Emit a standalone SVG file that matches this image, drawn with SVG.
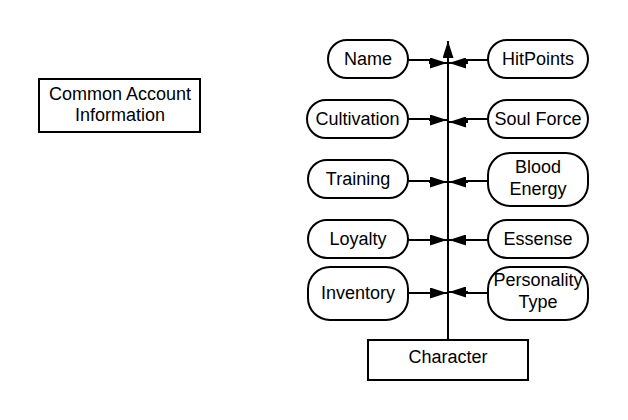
<svg xmlns="http://www.w3.org/2000/svg" width="628" height="420" viewBox="0 0 628 420">
<style>
.n{fill:#fff;stroke:#000;stroke-width:2}
.t{font-family:"Liberation Sans",Arial,sans-serif;font-size:18px;fill:#000;text-anchor:middle}
.c{fill:none;stroke:#000;stroke-width:2}
</style>
<defs>
<marker id="a" viewBox="0 0 17 11" refX="17" refY="5.5" markerWidth="17" markerHeight="11" markerUnits="userSpaceOnUse" orient="auto">
<path d="M0,0L17,5.5L0,11z" fill="#000"/>
</marker>
</defs>
<rect width="628" height="420" fill="#fff"/>
<g id="connectors">
<path class="c" d="M448,340V41" marker-end="url(#a)"/>
<path class="c" d="M408,60H430V63H447" marker-end="url(#a)"/>
<path class="c" d="M488,60H467V63H449" marker-end="url(#a)"/>
<path class="c" d="M408,119H430V120H447" marker-end="url(#a)"/>
<path class="c" d="M488,119H467V122H449" marker-end="url(#a)"/>
<path class="c" d="M408,181H430V182H447" marker-end="url(#a)"/>
<path class="c" d="M488,181H467V182H449" marker-end="url(#a)"/>
<path class="c" d="M408,240H447" marker-end="url(#a)"/>
<path class="c" d="M488,240H449" marker-end="url(#a)"/>
<path class="c" d="M408,293H447" marker-end="url(#a)"/>
<path class="c" d="M488,293H467V292H449" marker-end="url(#a)"/>
</g>
<g id="common"><rect class="n" x="39" y="79" width="161" height="53"/><text class="t" x="120" y="100">Common Account</text><text class="t" x="120" y="121">Information</text></g>
<g id="character"><rect class="n" x="368" y="340" width="160" height="40"/><text class="t" x="448" y="363">Character</text></g>
<g id="name"><rect class="n" x="328" y="40" width="80" height="38" rx="19"/><text class="t" x="368" y="65">Name</text></g>
<g id="cultivation"><rect class="n" x="307" y="100" width="101" height="38" rx="19"/><text class="t" x="357.5" y="125">Cultivation</text></g>
<g id="training"><rect class="n" x="308" y="160" width="100" height="38" rx="19"/><text class="t" x="358" y="185">Training</text></g>
<g id="loyalty"><rect class="n" x="308" y="220" width="100" height="38" rx="19"/><text class="t" x="358" y="245">Loyalty</text></g>
<g id="inventory"><rect class="n" x="308" y="267" width="100" height="53" rx="22"/><text class="t" x="358" y="299">Inventory</text></g>
<g id="hitpoints"><rect class="n" x="488" y="40" width="100" height="38" rx="19"/><text class="t" x="538" y="65">HitPoints</text></g>
<g id="soulforce"><rect class="n" x="488" y="100" width="100" height="38" rx="19"/><text class="t" x="538" y="125">Soul Force</text></g>
<g id="bloodenergy"><rect class="n" x="488" y="153" width="100" height="53" rx="22"/><text class="t" x="538" y="173">Blood</text><text class="t" x="538" y="195">Energy</text></g>
<g id="essense"><rect class="n" x="488" y="220" width="100" height="38" rx="19"/><text class="t" x="538" y="245">Essense</text></g>
<g id="personality"><rect class="n" x="488" y="267" width="100" height="53" rx="22"/><text class="t" x="538" y="286">Personality</text><text class="t" x="538" y="308">Type</text></g>
</svg>
